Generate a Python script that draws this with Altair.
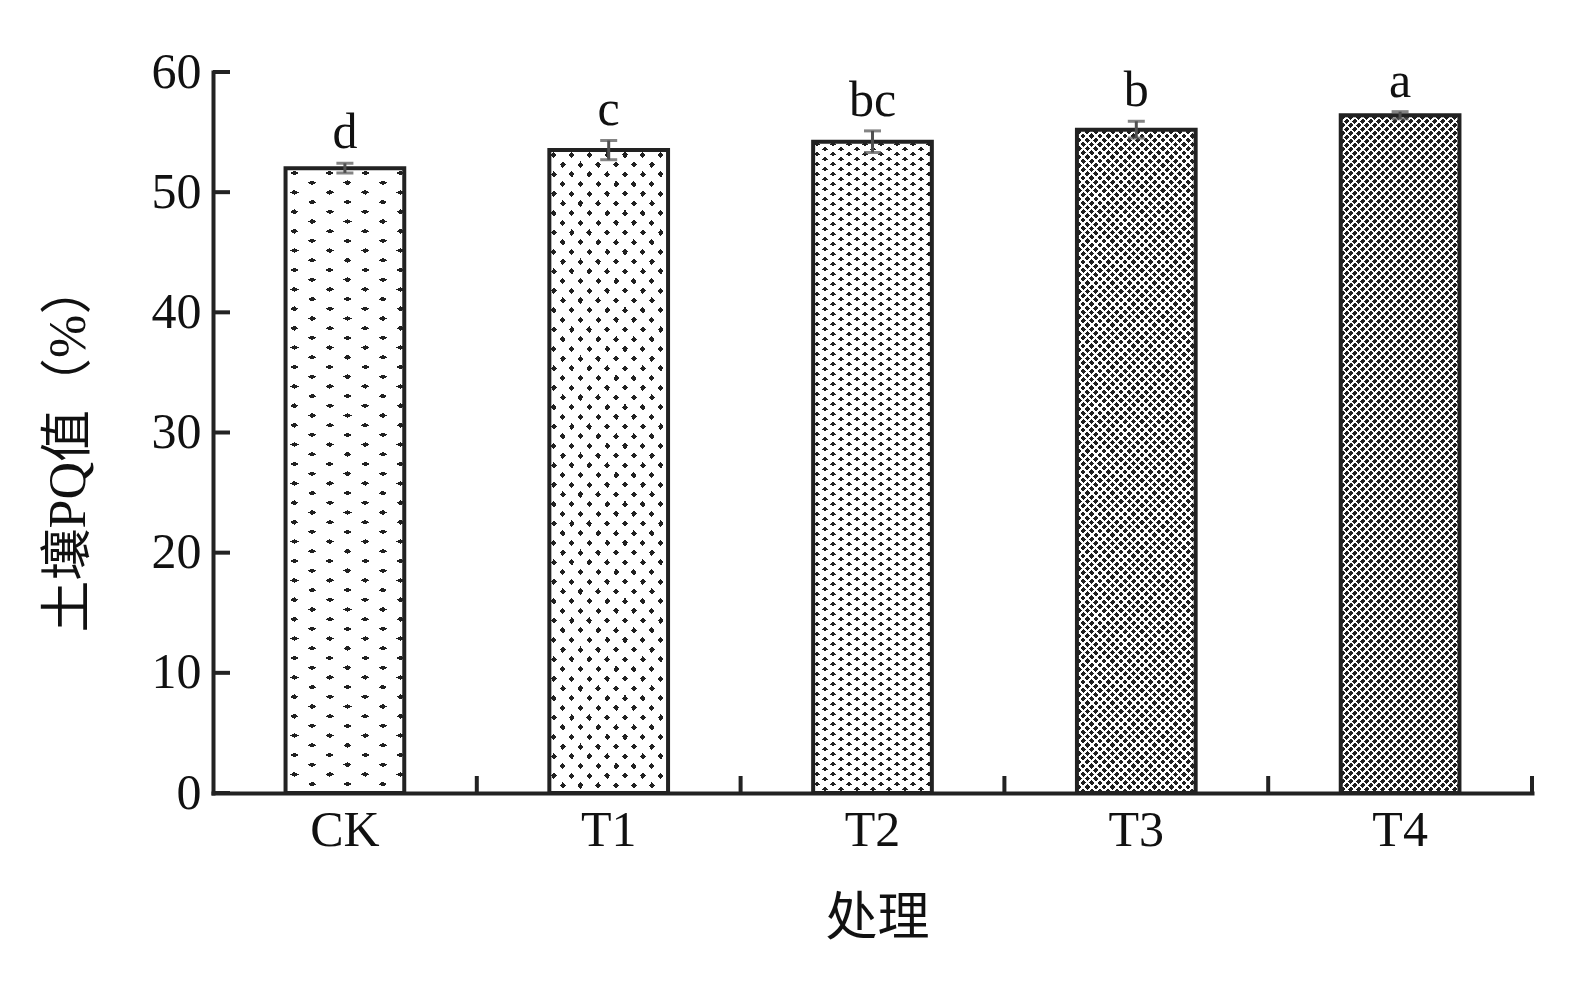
import math
import altair as alt
import pandas as pd

# ---------------- data ----------------
cats = ["CK", "T1", "T2", "T3", "T4"]
means = [52.0, 53.5, 54.2, 55.2, 56.4]
errs = [0.4, 0.8, 0.9, 0.7, 0.3]
letters = ["d", "c", "bc", "b", "a"]
y_ticks = [0, 10, 20, 30, 40, 50, 60]

# ---------------- layout / style ----------------
PLOT_W = 1319
PLOT_H = 721
Y_MAX = 60
BAND = 0.45
BAR_W = BAND * PLOT_W / len(cats)
FONT = "'Liberation Serif', 'Noto Sans CJK SC', serif"
INK = "#222222"
TXT = "#111111"
DARK = "#202020"
WHITE = "#ffffff"
CLEAR = "rgba(255,255,255,0)"
ERR = "#505050"

# fill texture per bar: (half column spacing px, row spacing px, dark fraction)
patterns = {
    "CK": (17.7, 9.7, 0.06),
    "T1": (8.9, 9.7, 0.11),
    "T2": (8.0, 5.0, 0.18),
    "T3": (4.2, 4.2, 0.42),
    "T4": (4.0, 4.0, 0.5),
}


def stripe_gradient(W, H, a, b, f, which, fg, bg):
    """Linear gradient (bbox units) that paints diagonal stripes on a W x H rect."""
    L = math.hypot(a, b)
    nx, ny = (b / L, -a / L) if which == 1 else (b / L, a / L)
    P = 2 * a * b / L
    w = P * math.sqrt(f)
    ox, oy = a * 0.5, b * 0.5
    phase = nx * ox + ny * oy
    corners = [(0, 0), (W, 0), (0, H), (W, H)]
    sv = [nx * x + ny * y for x, y in corners]
    i0 = min(range(4), key=lambda k: sv[k])
    smin = sv[i0]
    smax = max(sv) - smin
    p0 = corners[i0]
    M = nx * nx * W * W + ny * ny * H * H
    c = smax / M
    x1 = p0[0] / W
    y1 = p0[1] / H
    x2 = x1 + c * nx * W
    y2 = y1 + c * ny * H
    stops = [{"offset": 0, "color": bg}]
    last = 0.0
    k0 = math.floor((smin - phase - w) / P) - 1
    k1 = math.ceil((smin + smax - phase + w) / P) + 1
    for k in range(k0, k1 + 1):
        sc = phase + k * P - smin
        lo = max(0.0, (sc - w / 2) / smax)
        hi = min(1.0, (sc + w / 2) / smax)
        if hi <= 0 or lo >= 1:
            continue
        lo = max(round(lo, 6), last)
        hi = max(round(hi, 6), lo)
        stops += [
            {"offset": lo, "color": bg},
            {"offset": lo, "color": fg},
            {"offset": hi, "color": fg},
            {"offset": hi, "color": bg},
        ]
        last = hi
    stops.append({"offset": 1, "color": bg})
    return {"gradient": "linear", "x1": x1, "y1": y1, "x2": x2, "y2": y2,
            "stops": stops}


df = pd.DataFrame({"cat": cats, "val": means, "err": errs, "sig": letters})
df["lo"] = df["val"] - df["err"]
df["hi"] = df["val"] + df["err"]
ticks_df = pd.DataFrame({"v": y_ticks})

xscale = alt.Scale(paddingInner=0, paddingOuter=0)
yscale = alt.Scale(domain=[0, Y_MAX], nice=False, zero=True)

xaxis = alt.Axis(
    title="处理", labelAngle=0, labelFont=FONT, labelFontSize=50, labelColor=TXT,
    labelPadding=12, tickSize=0, domainColor=INK, domainWidth=4, domainCap="square",
    grid=False, titleFont=FONT, titleFontSize=52, titleFontWeight="normal",
    titleColor=TXT, titleX=664, titleY=125, titleAlign="center",
    titleBaseline="middle", zindex=1,
)
yaxis = alt.Axis(
    title="土壤PQ值（%）", values=y_ticks, labelFont=FONT, labelFontSize=50,
    labelColor=TXT, labelPadding=12, tickSize=0, domainColor=INK, domainWidth=4,
    domainCap="square", grid=False, titleFont=FONT, titleFontSize=52,
    titleFontWeight="normal", titleColor=TXT, titleAngle=270, titleX=-145,
    titleY=375, titleAlign="center", titleBaseline="middle", zindex=1,
)

X = alt.X("cat:N", sort=cats, scale=xscale, axis=xaxis)
Y = alt.Y("val:Q", scale=yscale, axis=yaxis)

base = alt.Chart(df)
layers = []

# textured fills
for c, v in zip(cats, means):
    H = v * PLOT_H / Y_MAX
    a, b, f = patterns[c]
    g1 = stripe_gradient(BAR_W, H, a, b, f, 1, DARK, WHITE)
    g2 = stripe_gradient(BAR_W, H, a, b, f, 2, CLEAR, WHITE)
    for g in (g1, g2):
        layers.append(
            base.transform_filter(alt.datum.cat == c)
            .mark_bar(fill=g, width=alt.RelativeBandSize(BAND), strokeWidth=0)
            .encode(x=X, y=Y)
        )

# bar outlines
layers.append(
    base.mark_bar(fillOpacity=0, stroke=INK, strokeWidth=4, strokeJoin="miter",
                  width=alt.RelativeBandSize(BAND))
    .encode(x=X, y=Y)
)

# error bars
layers.append(
    base.mark_rule(color=ERR, strokeWidth=3)
    .encode(x=X, y=alt.Y("lo:Q", scale=yscale, axis=yaxis), y2="hi:Q")
)
for fld in ("lo", "hi"):
    layers.append(
        base.mark_tick(color=ERR, size=17, thickness=3, orient="horizontal")
        .encode(x=X, y=alt.Y(f"{fld}:Q", scale=yscale, axis=yaxis))
    )

# significance letters
layers.append(
    base.mark_text(dy=-15, baseline="alphabetic", align="center", font=FONT,
                   fontSize=50, color=TXT)
    .encode(x=X, y=alt.Y("hi:Q", scale=yscale, axis=yaxis), text="sig:N")
)

# inward ticks on the y axis
layers.append(
    alt.Chart(ticks_df).mark_rule(color=INK, strokeWidth=4)
    .encode(y=alt.Y("v:Q", scale=yscale, axis=yaxis), x=alt.value(0), x2=alt.value(17))
)

# inward ticks on the x axis, at band boundaries
layers.append(
    base.mark_rule(color=INK, strokeWidth=4)
    .encode(x=alt.X("cat:N", sort=cats, scale=xscale, axis=xaxis, bandPosition=1),
            y=alt.value(PLOT_H - 17), y2=alt.value(PLOT_H))
)

chart = (
    alt.layer(*layers)
    .properties(
        width=PLOT_W, height=PLOT_H,
        autosize=alt.AutoSizeParams(type="none"),
        padding={"left": 205, "top": 64, "right": 40, "bottom": 176},
        background="white",
    )
    .configure_view(strokeWidth=0)
)

chart.save("out.html", embed_options={"renderer": "svg", "actions": False})
